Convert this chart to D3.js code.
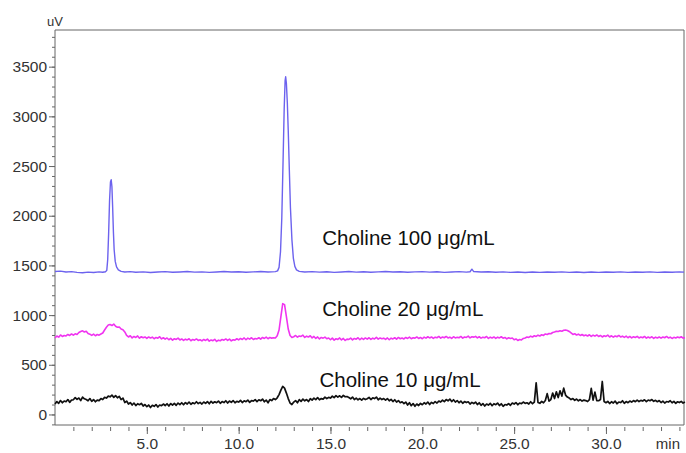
<!DOCTYPE html>
<html>
<head>
<meta charset="utf-8">
<script src="https://cdn.jsdelivr.net/npm/d3@7"></script>
<style>
    body { margin: 0; background: #fff; }
    svg { display: block; font-family: "Liberation Sans", Arial, sans-serif; }
</style>
</head>
<body>
<svg id="chart" width="686" height="453"></svg>
<script>
// time axis (min) and signal axis (uV)
const timeDomain = [0, 34.25];
const signalDomain = [-106, 3869];
const xMajorTicks = [5, 10, 15, 20, 25, 30];
const xMinorTicks = d3.range(1, 35);
const yMajorTicks = [0, 500, 1000, 1500, 2000, 2500, 3000, 3500];
const yMinorTicks = d3.range(-100, 3900, 100);

const seriesNames = ["Choline 100 μg/mL", "Choline 20 μg/mL", "Choline 10 μg/mL"];

// 100 ug/mL trace, [time, uV]
const trace100 = [
    [0, 1438], [0.3, 1442], [0.6, 1434], [0.9, 1437], [1.2, 1430], [1.5, 1426], [1.8, 1432], [2.1, 1428],
    [2.4, 1435], [2.6, 1431], [2.75, 1436], [2.82, 1450], [2.87, 1560], [2.92, 1820], [2.97, 2150], [3.02, 2340],
    [3.06, 2362], [3.1, 2290], [3.14, 2080], [3.18, 1840], [3.22, 1660], [3.28, 1540], [3.35, 1485], [3.45, 1455],
    [3.6, 1440], [3.8, 1434], [4.1, 1437], [4.4, 1431], [4.8, 1435], [5.2, 1429], [5.6, 1433], [6.0, 1437],
    [6.4, 1431], [6.8, 1434], [7.2, 1438], [7.6, 1432], [8.0, 1435], [8.4, 1430], [8.8, 1434], [9.2, 1438],
    [9.6, 1433], [10.0, 1436], [10.4, 1431], [10.8, 1435], [11.2, 1438], [11.6, 1433], [12.0, 1437], [12.12, 1445],
    [12.2, 1480], [12.28, 1640], [12.35, 1980], [12.42, 2560], [12.48, 3080], [12.53, 3360], [12.56, 3398], [12.6, 3330],
    [12.65, 3140], [12.7, 2860], [12.76, 2460], [12.82, 2080], [12.9, 1760], [12.98, 1570], [13.06, 1490], [13.15, 1455],
    [13.3, 1440], [13.6, 1434], [14.0, 1437], [14.4, 1432], [14.8, 1436], [15.2, 1430], [15.6, 1434], [16.0, 1438],
    [16.4, 1432], [16.8, 1436], [17.2, 1431], [17.6, 1435], [18.0, 1438], [18.4, 1433], [18.8, 1436], [19.2, 1431],
    [19.6, 1435], [20.0, 1437], [20.4, 1432], [20.8, 1436], [21.2, 1430], [21.6, 1434], [22.0, 1437], [22.4, 1432],
    [22.6, 1436], [22.7, 1462], [22.8, 1438], [23.2, 1433], [23.6, 1436], [24.0, 1431], [24.4, 1435], [24.8, 1430],
    [25.2, 1434], [25.6, 1429], [26.0, 1433], [26.4, 1430], [26.8, 1434], [27.2, 1431], [27.6, 1435], [28.0, 1430],
    [28.4, 1434], [28.8, 1429], [29.2, 1433], [29.6, 1430], [30.0, 1434], [30.4, 1431], [30.8, 1435], [31.2, 1430],
    [31.6, 1434], [32.0, 1431], [32.4, 1435], [32.8, 1430], [33.2, 1434], [33.6, 1431], [34.0, 1435], [34.25, 1432]
];

// 20 and 10 ug/mL traces, one value every 0.1 min from 0
const sampleStep = 0.1;
const values20 = [
    770, 790, 778, 800, 785, 795, 790, 805, 795, 810,
    798, 812, 805, 825, 835, 842, 830, 838, 815, 808,
    795, 808, 792, 805, 798, 810, 820, 850, 878, 900,
    905, 895, 910, 888, 878, 880, 860, 852, 830, 795,
    780, 792, 770, 785, 775, 790, 768, 782, 772, 780,
    765, 780, 770, 778, 762, 775, 768, 782, 760, 772,
    758, 770, 752, 765, 748, 762, 755, 768, 750, 760,
    745, 758, 750, 762, 742, 755, 748, 760, 745, 752,
    740, 755, 745, 758, 738, 750, 742, 756, 735, 748,
    742, 755, 748, 760, 745, 758, 740, 752, 748, 762,
    750, 765, 755, 770, 752, 768, 758, 772, 755, 765,
    760, 772, 758, 775, 765, 778, 762, 775, 768, 772,
    770, 792, 850, 985, 1115, 1105, 985, 860, 795, 775,
    782, 795, 778, 790, 785, 798, 775, 788, 780, 792,
    770, 785, 765, 780, 760, 775, 768, 778, 762, 770,
    752, 768, 748, 762, 755, 770, 750, 765, 745, 758,
    755, 768, 750, 765, 758, 772, 752, 768, 755, 770,
    758, 772, 755, 768, 760, 775, 758, 770, 762, 768,
    755, 770, 752, 768, 760, 772, 758, 775, 762, 770,
    760, 775, 765, 778, 762, 772, 768, 780, 765, 775,
    762, 778, 768, 782, 770, 780, 765, 778, 772, 785,
    768, 780, 772, 785, 770, 778, 765, 782, 770, 776,
    772, 785, 768, 780, 775, 788, 770, 782, 778, 786,
    770, 782, 768, 778, 772, 785, 765, 778, 770, 780,
    765, 778, 770, 782, 768, 775, 760, 772, 765, 770,
    752, 760, 745, 755, 750, 765, 770, 780, 775, 788,
    780, 792, 785, 798, 790, 802, 795, 810, 805, 815,
    812, 825, 830, 838, 835, 842, 838, 848, 850, 845,
    835, 820, 805, 812, 800, 808, 795, 805, 792, 800,
    790, 802, 785, 798, 788, 800, 785, 795, 780, 792,
    785, 798, 780, 792, 778, 790, 782, 795, 780, 788,
    776, 788, 772, 785, 770, 782, 775, 786, 770, 780,
    772, 785, 768, 780, 770, 782, 765, 778, 770, 780,
    768, 780, 772, 785, 770, 778, 765, 776, 770, 780,
    772, 782, 768, 775
];
const values10 = [
    105, 130, 112, 140, 118, 135, 128, 150, 122, 145,
    148, 170, 152, 165, 140, 175, 158, 150, 138, 160,
    132, 150, 128, 145, 140, 160, 150, 172, 165, 185,
    178, 195, 172, 190, 168, 182, 150, 165, 120, 135,
    105, 120, 95, 115, 90, 108, 98, 112, 85, 100,
    78, 95, 70, 92, 82, 100, 75, 95, 88, 105,
    90, 108, 85, 110, 95, 112, 92, 115, 100, 118,
    98, 120, 105, 125, 102, 118, 108, 128, 110, 122,
    105, 125, 112, 130, 108, 132, 115, 128, 118, 135,
    112, 130, 120, 138, 115, 135, 122, 140, 118, 132,
    125, 142, 120, 138, 128, 145, 122, 140, 135, 150,
    130, 148, 138, 155, 128, 145, 118, 150, 140, 160,
    150, 168, 200, 245, 282, 265, 215, 160, 115, 100,
    125, 140, 118, 150, 132, 155, 138, 150, 130, 158,
    145, 165, 150, 170, 148, 160, 155, 175, 160, 172,
    165, 185, 170, 190, 175, 188, 172, 192, 178, 180,
    170, 158, 175, 150, 165, 148, 160, 145, 162, 150,
    158, 172, 150, 168, 160, 175, 148, 165, 150, 160,
    145, 160, 138, 152, 130, 148, 125, 140, 118, 128,
    110, 125, 95, 118, 88, 110, 82, 105, 90, 112,
    98, 118, 105, 125, 100, 122, 110, 130, 115, 135,
    125, 145, 130, 150, 138, 155, 130, 148, 125, 140,
    118, 135, 112, 130, 120, 128, 105, 122, 110, 125,
    100, 118, 92, 110, 85, 105, 95, 112, 88, 108,
    98, 115, 90, 108, 82, 100, 95, 110, 92, 115,
    105, 120, 98, 115, 108, 125, 112, 118, 105, 128,
    108, 125, 318, 120, 112, 132, 118, 140, 210, 135,
    150, 215, 160, 228, 170, 238, 185, 265, 195, 175,
    165, 150, 160, 142, 155, 138, 150, 135, 145, 140,
    130, 150, 262, 145, 225, 140, 138, 150, 332, 130,
    118, 132, 110, 128, 115, 135, 108, 125, 120, 138,
    112, 130, 118, 135, 125, 140, 128, 145, 130, 142,
    135, 148, 130, 145, 138, 150, 132, 142, 128, 140,
    120, 135, 115, 130, 125, 138, 118, 132, 112, 128,
    120, 132, 115, 125
];

const svg = d3.select("#chart");
const margin = { top: 30, right: 2, bottom: 28, left: 55 };
const width = +svg.attr("width");
const height = +svg.attr("height");

const x = d3.scaleLinear().domain(timeDomain).range([margin.left, width - margin.right]);
const y = d3.scaleLinear().domain(signalDomain).range([height - margin.bottom, margin.top]);

const toPairs = (vals) => vals.map((v, i) => [i * sampleStep, v]);

const series = [
    { name: seriesNames[0], data: trace100, color: "#6c62ee", width: 1.4, labelAt: [14.55, 1705] },
    { name: seriesNames[1], data: toPairs(values20), color: "#f034f0", width: 1.6, labelAt: [14.55, 990] },
    { name: seriesNames[2], data: toPairs(values10), color: "#111", width: 1.7, labelAt: [14.4, 278] }
];

const line = d3
    .line()
    .x((d) => x(d[0]))
    .y((d) => y(d[1]));

// axes
const axisColor = "#666";
const y0 = height - margin.bottom;

const yMinor = svg
    .append("g")
    .attr("transform", `translate(${margin.left},0)`)
    .call(d3.axisLeft(y).tickValues(yMinorTicks).tickSize(3).tickFormat(""));
const yMajor = svg
    .append("g")
    .attr("transform", `translate(${margin.left},0)`)
    .call(d3.axisLeft(y).tickValues(yMajorTicks).tickSize(6).tickPadding(2).tickFormat(d3.format("d")));

const xMinor = svg
    .append("g")
    .attr("transform", `translate(0,${y0 + 2})`)
    .call(d3.axisBottom(x).tickValues(xMinorTicks).tickSize(4).tickFormat(""));
const xMajor = svg
    .append("g")
    .attr("transform", `translate(0,${y0 + 2})`)
    .call(d3.axisBottom(x).tickValues(xMajorTicks).tickSize(7).tickPadding(4).tickFormat(d3.format(".1f")));

[yMinor, yMajor, xMinor, xMajor].forEach((g) => {
    g.select(".domain").remove();
    g.selectAll(".tick line").attr("stroke", axisColor);
    g.selectAll(".tick text")
        .attr("fill", "#333")
        .style("font-size", "15.5px");
});

// frame
svg.append("path")
    .attr("d", `M${margin.left},${margin.top}H${width - margin.right}V${y0}H${margin.left}Z`)
    .attr("fill", "none")
    .attr("stroke", axisColor)
    .attr("stroke-width", 1);

svg.append("text")
    .attr("x", margin.left)
    .attr("y", 26)
    .attr("text-anchor", "middle")
    .attr("fill", "#333")
    .style("font-size", "13px")
    .text("uV");

svg.append("text")
    .attr("x", width - 6)
    .attr("y", 449)
    .attr("text-anchor", "end")
    .attr("fill", "#333")
    .style("font-size", "15px")
    .text("min");

// traces
svg.selectAll("path.trace")
    .data(series.slice().reverse())
    .enter()
    .append("path")
    .attr("class", "trace")
    .attr("d", (d) => line(d.data))
    .attr("fill", "none")
    .attr("stroke", (d) => d.color)
    .attr("stroke-width", (d) => d.width)
    .attr("stroke-linejoin", "round");

svg.selectAll("text.label")
    .data(series)
    .enter()
    .append("text")
    .attr("class", "label")
    .attr("x", (d) => x(d.labelAt[0]))
    .attr("y", (d) => y(d.labelAt[1]))
    .attr("fill", "#111")
    .style("font-size", "20.5px")
    .text((d) => d.name);
</script>
</body>
</html>
